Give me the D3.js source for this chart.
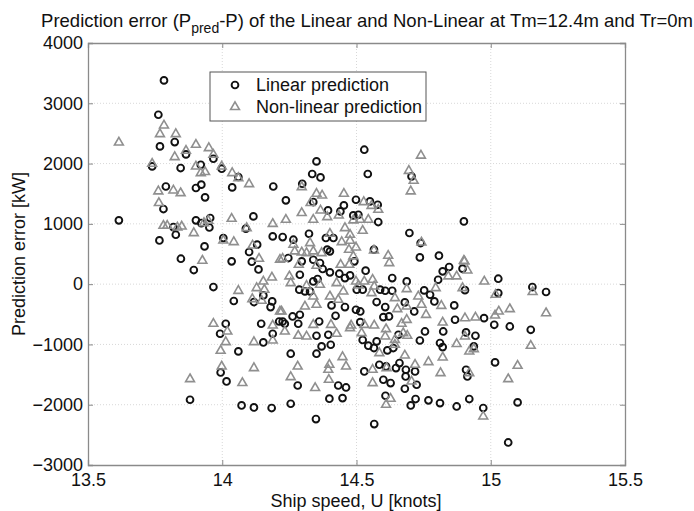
<!DOCTYPE html>
<html>
<head>
<meta charset="utf-8">
<script src="https://cdn.jsdelivr.net/npm/d3@7"></script>
<style>
  body { margin: 0; background: #fff; }
  text { font-family: "Liberation Sans", Arial, sans-serif; fill: #111; }
</style>
</head>
<body>
<svg id="chart" width="694" height="511"></svg>
<script>
// ship speed [knots] and prediction error [kW]
const linSpeed = [13.783,13.762,13.768,13.823,13.865,13.967,13.845,13.739,13.92,13.998,14.06,13.922,13.79,13.902,14.037,14.19,
  13.936,13.781,13.615,13.818,13.827,13.766,13.902,13.922,13.955,13.952,13.934,14.004,14.116,14.088,14.188,14.13,14.10,13.846,
  14.035,14.11,14.135,13.894,13.967,14.043,14.118,14.153,14.18,14.186,14.013,14.145,14.212,
  13.992,14.188,14.153,14.06,13.994,14.016,13.88,14.072,14.118,14.184,
  14.529,14.351,14.335,14.366,14.542,14.298,14.705,
  14.237,14.339,14.453,14.498,14.55,14.579,14.394,14.44,14.488,14.507,14.581,14.9,14.323,14.225,14.265,14.386,14.414,14.697,
  14.739,14.391,14.401,14.565,14.246,14.296,14.339,14.364,14.492,14.736,14.807,14.821,14.845,14.895,14.289,14.374,14.401,
  14.436,14.476,14.534,14.339,14.355,14.457,14.633,14.687,14.804,14.287,14.308,14.327,14.501,14.523,14.588,14.607,14.633,
  14.752,14.774,14.79,14.904,14.407,14.457,14.498,14.575,14.607,14.68,14.715,14.864,14.262,14.289,14.422,14.514,14.6,14.621,
  14.225,14.233,14.283,14.361,14.514,14.867,
  14.351,14.395,14.404,14.37,14.255,14.351,14.523,14.544,14.565,14.575,14.615,14.637,14.656,14.755,14.736,14.823,14.811,14.821,
  14.908,14.908,14.913,14.529,14.585,14.61,14.647,14.66,14.684,14.683,14.718,14.281,14.432,14.461,14.6,14.627,14.68,14.724,
  14.399,14.448,14.608,14.72,14.702,14.768,14.811,14.873,14.92,14.255,14.349,14.566,
  15.028,15.155,15.206,15.028,14.975,15.013,15.071,15.149,14.943,14.937,15.016,14.972,15.1,15.065];
const linError = [3380,2810,2285,2357,2152,2080,1926,1953,1980,1915,1777,1650,1620,1595,1605,1620,
  1440,1246,1058,947,820,725,1058,1013,1097,940,626,765,1124,920,792,655,533,422,
  378,372,244,234,-48,-280,-297,-187,-380,-287,-657,-657,-620,
  -823,-823,-967,-1116,-1465,-1614,-1918,-2012,-2045,-2055,
  2230,2036,1827,1770,1827,1665,1787,
  1390,1362,1306,1400,1372,1317,1223,1206,1140,1151,1030,1040,836,781,737,765,765,848,
  682,572,544,572,433,378,405,350,378,444,472,212,284,257,156,251,196,
  173,145,223,45,85,101,101,45,73,-92,-120,-120,-92,-92,-92,-110,-110,
  -104,-176,-287,-100,-353,-380,-425,-297,-380,-303,-453,-353,-536,-508,-525,-453,-547,-536,
  -620,-657,-657,-620,-630,-591,
  -856,-840,-1005,-1033,-1154,-1154,-926,-1021,-1060,-950,-1099,-1060,-840,-785,-935,-785,-977,-1044,
  -801,-1420,-1531,-1448,-1337,-1365,-1392,-1309,-1420,-1531,-1448,-1681,-1681,-1714,-1586,-1641,-1735,-1669,
  -1900,-1890,-1851,-1906,-2012,-1928,-1973,-2029,-1906,-1984,-2238,-2321,
  90,-48,-130,-148,-564,-674,-702,-757,-856,-1033,-1298,-2055,-1962,-2626];

const nlSpeed = [13.615,13.783,13.768,13.827,13.902,13.95,13.865,13.823,13.739,13.902,13.92,13.936,13.967,13.998,14.037,14.06,14.10,
  13.762,13.818,13.845,
  13.764,13.781,13.795,13.833,13.849,13.894,13.932,13.948,14.035,14.091,14.043,14.004,14.113,14.137,14.188,14.215,13.926,14.185,
  14.153,14.128,14.06,14.157,14.112,14.147,13.967,14.188,14.215,
  14.019,14.013,14.118,14.188,13.994,13.998,14.118,13.88,14.075,
  14.74,14.695,14.713,14.296,14.702,
  14.351,14.372,14.453,14.527,14.556,14.581,14.329,14.296,14.237,14.339,14.366,14.391,14.434,14.488,14.514,14.544,14.523,14.457,
  14.401,14.476,14.265,14.327,14.445,14.476,14.498,14.742,14.565,14.27,14.296,14.314,14.339,14.472,14.225,14.37,14.618,14.622,
  14.488,14.285,14.351,14.441,14.473,14.25,14.255,14.314,14.364,14.426,14.498,14.507,14.529,14.56,14.566,14.687,14.795,14.842,
  14.873,14.902,14.895,14.451,14.401,14.339,14.432,14.308,14.351,14.556,14.643,14.73,14.742,14.816,14.652,14.687,14.221,14.759,
  14.821,14.339,14.405,14.48,14.529,14.566,14.668,14.687,
  14.233,14.283,14.314,14.426,14.476,14.519,14.607,14.61,14.643,14.643,14.674,14.689,14.585,14.68,14.718,14.768,14.821,14.813,
  14.873,14.92,14.281,14.255,14.399,14.395,14.461,14.448,14.397,14.346,14.56,14.56,14.612,14.705,14.627,14.61,
  14.9,14.913,14.976,15.018,15.156,15.071,15.03,15.016,15.206,14.904,14.943,14.904,14.937,15.149,15.1,15.065,14.92,14.972];
const nlError = [2350,2633,2490,2490,2313,2258,2213,2108,1998,1953,1843,1860,2147,1953,1843,1760,1660,
  1540,1555,1510,
  1346,969,969,940,957,848,1013,1052,1085,930,698,725,642,422,1000,405,390,110,
  45,-65,-110,-92,-247,-275,-657,-685,-453,
  -785,-960,-960,-935,-1105,-1365,-1392,-1575,-1640,
  2133,1880,1715,1610,1540,
  1500,1472,1500,1362,1300,1234,1346,1180,1069,1069,1223,1113,1140,1058,1069,1069,887,930,
  836,820,655,682,698,720,609,692,560,544,527,516,544,572,422,516,472,350,
  461,322,306,322,322,129,18,-27,-10,18,45,-21,45,73,-38,-81,-65,129,
  129,378,-65,-120,-203,-203,-258,-370,-342,-148,-231,-203,-342,-359,-414,-370,-453,-508,
  -636,-674,-674,-685,-674,-685,-657,-591,
  -785,-856,-867,-823,-729,-812,-867,-746,-923,-1005,-812,-856,-1143,-1182,-1337,-1292,-1215,-1475,
  -993,-1116,-1365,-1541,-1337,-1420,-1365,-1210,-1586,-1723,-1420,-1641,-1392,-1614,-1900,-2000,
  389,228,45,-176,-130,-414,-453,-520,-481,-564,-553,-867,-1077,-1021,-1353,-1575,-1475,-2194];

const xTicks = [13.5, 14, 14.5, 15, 15.5];
const yTicks = [-3000, -2000, -1000, 0, 1000, 2000, 3000, 4000];
const seriesNames = ["Linear prediction", "Non-linear prediction"];

function main(){
    var svg = d3.select("#chart");
    var left = 88, right = 625, top = 43, bottom = 465;

    var x = d3.scaleLinear().domain([13.5, 15.5]).range([left, right]);
    var y = d3.scaleLinear().domain([-3000, 4000]).range([bottom, top]);

    // dotted grid
    svg.append("g").selectAll("line").data(xTicks.slice(1, -1)).enter().append("line")
        .attr("x1", d => x(d)).attr("x2", d => x(d)).attr("y1", top).attr("y2", bottom)
        .attr("stroke", "#d8d8d8").attr("stroke-dasharray", "1,2");
    svg.append("g").selectAll("line").data(yTicks.slice(1, -1)).enter().append("line")
        .attr("y1", d => y(d)).attr("y2", d => y(d)).attr("x1", left).attr("x2", right)
        .attr("stroke", "#d8d8d8").attr("stroke-dasharray", "1,2");

    // axes, ticks pointing in
    var axisColor = "#8a8a8a";
    var gx = svg.append("g").attr("transform", "translate(0," + bottom + ")")
        .call(d3.axisBottom(x).tickValues(xTicks).tickSize(-5).tickPadding(8).tickFormat(d3.format("")));
    var gxTop = svg.append("g").attr("transform", "translate(0," + top + ")")
        .call(d3.axisTop(x).tickValues(xTicks).tickSize(-5).tickFormat(""));
    var gy = svg.append("g").attr("transform", "translate(" + left + ",0)")
        .call(d3.axisLeft(y).tickValues(yTicks).tickSize(-5).tickPadding(5).tickFormat(d3.format("d")));
    var gyRight = svg.append("g").attr("transform", "translate(" + right + ",0)")
        .call(d3.axisRight(y).tickValues(yTicks).tickSize(-5).tickFormat(""));
    [gx, gxTop, gy, gyRight].forEach(function(g){
        g.select(".domain").attr("stroke", axisColor).attr("stroke-width", 1.3);
        g.selectAll(".tick line").attr("stroke", axisColor);
    });
    gx.selectAll(".tick text").attr("font-size", "18px").attr("fill", "#111")
        .attr("font-family", "Liberation Sans, Arial, sans-serif");
    gy.selectAll(".tick text").attr("font-size", "18px").attr("fill", "#111")
        .attr("font-family", "Liberation Sans, Arial, sans-serif");

    // linear prediction: black circles
    svg.append("g").selectAll("circle").data(linSpeed).enter().append("circle")
        .attr("cx", d => x(d))
        .attr("cy", (d, i) => y(linError[i]))
        .attr("r", 3.4)
        .attr("fill", "none")
        .attr("stroke", "#111")
        .attr("stroke-width", 1.9);

    // non-linear prediction: gray triangles
    var tri = d3.symbol().type(d3.symbolTriangle).size(34);
    svg.append("g").selectAll("path").data(nlSpeed).enter().append("path")
        .attr("d", tri)
        .attr("transform", (d, i) => "translate(" + x(d) + "," + y(nlError[i]) + ")")
        .attr("fill", "none")
        .attr("stroke", "#8f8f8f")
        .attr("stroke-width", 1.6);

    // legend
    var lg = svg.append("g");
    lg.append("rect").attr("x", 210).attr("y", 72).attr("width", 216).attr("height", 49)
        .attr("fill", "#fff").attr("stroke", "#555").attr("stroke-width", 1);
    lg.append("circle").attr("cx", 235).attr("cy", 85).attr("r", 3.4)
        .attr("fill", "none").attr("stroke", "#111").attr("stroke-width", 1.9);
    lg.append("path").attr("d", tri).attr("transform", "translate(235,107)")
        .attr("fill", "none").attr("stroke", "#8f8f8f").attr("stroke-width", 1.6);
    lg.append("text").attr("x", 256).attr("y", 91).attr("font-size", "18px").text(seriesNames[0]);
    lg.append("text").attr("x", 256).attr("y", 113).attr("font-size", "18px").text(seriesNames[1]);

    // title with subscript
    var title = svg.append("text").attr("x", 367).attr("y", 27).attr("text-anchor", "middle").attr("font-size", "18.5px");
    title.append("tspan").text("Prediction error (P");
    title.append("tspan").attr("font-size", "14px").attr("dy", 6).text("pred");
    title.append("tspan").attr("dy", -6).text("-P) of the Linear and Non-Linear at Tm=12.4m and Tr=0m");

    // axis labels
    svg.append("text").attr("x", 356).attr("y", 507).attr("text-anchor", "middle")
        .attr("font-size", "18px").text("Ship speed, U [knots]");
    svg.append("text").attr("transform", "translate(25,254) rotate(-90)").attr("text-anchor", "middle")
        .attr("font-size", "18px").text("Prediction error [kW]");
}
main();
</script>
</body>
</html>
